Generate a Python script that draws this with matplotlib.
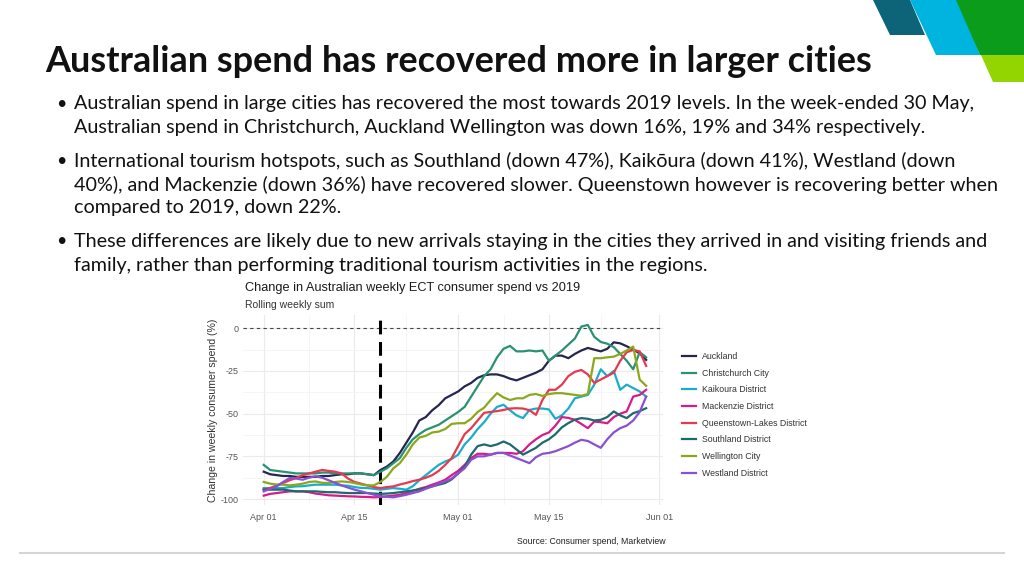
import matplotlib
matplotlib.use('Agg')
import matplotlib.pyplot as plt
import matplotlib.dates as mdates
from matplotlib.patches import Polygon
from matplotlib.lines import Line2D
import pandas as pd

plt.rcParams['axes.unicode_minus'] = False

# ---------------- data ----------------
start_date = '2020-04-01'
n_days = 60
event_date = '2020-04-19'

series_names = ['Auckland', 'Christchurch City', 'Kaikoura District', 'Mackenzie District',
                'Queenstown-Lakes District', 'Southland District', 'Wellington City', 'Westland District']

auckland = [-84, -85.5, -86, -86.5, -86.5, -87, -87, -87, -87, -86.5,
            -86.5, -86, -85.5, -85.5, -85, -85, -85.5, -86, -83, -81,
            -78, -73, -67, -61, -54, -52, -48, -45, -41, -39,
            -37, -34, -32, -29, -27.5, -27, -27, -28, -29.5, -30.5,
            -29, -27.5, -26, -24, -19, -16, -16, -17.5, -15, -13,
            -11.5, -12.5, -13.5, -12, -8.2, -8.8, -10.5, -12.5, -14.6, -18.5]
christchurch = [-80, -83, -83.5, -84, -84.5, -85, -85, -85, -85, -84.5,
                -84.5, -85, -85, -85, -85, -85, -85.5, -86, -84, -82,
                -79, -76, -70, -65, -62, -59.5, -58, -56.5, -54, -51.5,
                -49, -46, -40, -34, -28, -24, -17, -12, -10.3, -13.5,
                -13.5, -13, -13.5, -13, -19, -16, -13, -9.5, -6, 1,
                2, -5, -8, -9, -11, -15, -19, -24, -14, -17]
kaikoura = [-93.6, -93.6, -93.6, -93.6, -93, -92.6, -92.5, -92, -91.6, -91.6,
            -91.6, -91.6, -92, -92.2, -93, -93.5, -93.6, -94, -94.5, -94,
            -93.6, -94, -94.5, -92.5, -89, -86, -83, -80, -78, -76.5,
            -74, -68, -64, -59, -55, -50, -46, -44.8, -48, -51,
            -52.6, -47.8, -47, -47, -47.5, -53, -51, -47, -41, -40,
            -39, -33, -24, -28, -25, -36, -33, -35, -37, -40]
mackenzie = [-98, -97, -96.5, -96, -95.5, -95.5, -95.5, -96, -96.8, -97.3,
             -97.8, -98, -98.2, -98.4, -98.5, -98.7, -98.8, -99, -98.8, -98.4,
             -98, -97.5, -96.5, -95.2, -94, -93, -91.6, -90.3, -88.7, -86,
             -83.5, -80, -76, -73.5, -73.5, -74, -73, -73, -73, -73.5,
             -72, -68, -65, -62.5, -61, -57, -52, -52.5, -53.6, -56,
             -58.5, -54.6, -55, -55.6, -52, -50, -48.7, -40, -39, -36]
queenstown = [-94.5, -93.5, -92, -90.6, -89, -87.7, -86, -85, -84, -83,
              -83.5, -84, -85, -88, -90, -91, -92, -93, -93.6, -93,
              -92.6, -91.5, -90.6, -89.5, -88.7, -87.5, -86, -83.5, -80, -76,
              -69, -62, -58.5, -54, -49.5, -49, -48.5, -47.8, -47, -46.8,
              -47, -48, -50.7, -42, -36, -36, -33, -28, -25.5, -24.4,
              -27, -32, -30, -28, -26, -19, -14, -12.7, -13.5, -22]
southland = [-94.5, -94.5, -94.5, -94.5, -95, -95.5, -95.5, -95.5, -95.5, -95.8,
             -96, -96, -96.3, -96.5, -96.5, -96.5, -96.5, -96.8, -97, -96.8,
             -96.5, -96, -95.5, -95, -94.5, -93.5, -92.6, -91.6, -90.6, -88.5,
             -85, -81, -74, -69, -68, -69, -68, -66.3, -68, -71,
             -74, -72, -70, -67, -65, -62, -58, -55.5, -53.5, -52.6,
             -53, -54, -53.6, -52, -48.7, -51, -52.6, -49.7, -48.5, -46.8]
wellington = [-90, -91, -91.5, -91.6, -92, -91.6, -91, -90, -89.7, -90.5,
              -90.6, -90, -89.7, -90, -90.6, -91.5, -92, -92, -90, -87,
              -82, -79, -74, -68, -64, -63, -61, -60.5, -59, -56,
              -55.6, -55.6, -53, -49, -46.5, -42, -38, -40.5, -42, -41,
              -41, -39, -38.5, -39.6, -38.5, -38, -38, -38.5, -39, -39.5,
              -38.5, -17.5, -17.5, -17, -16.6, -15, -13, -10.7, -30, -33.7]
westland = [-95.5, -94, -92.6, -90, -87.7, -88, -88.7, -87.5, -86.7, -87.5,
            -89, -90.5, -92, -93.3, -94.5, -95.5, -96.5, -97.5, -98.4, -98.7,
            -99, -98.3, -97.5, -96.5, -95.5, -94, -92.6, -91, -89.7, -88,
            -85, -82, -77, -75, -75, -74, -73, -73, -74.5, -76,
            -77.5, -79, -75.5, -73.5, -73, -72, -70.5, -69, -67, -65.3,
            -66, -68, -70, -65, -61, -58.5, -57, -54, -49, -40]

series_values = [auckland, christchurch, kaikoura, mackenzie, queenstown,
                 southland, wellington, westland]
series_colors = ['#25264F', '#2A9173', '#1AADCB', '#D81B8A', '#E8384F',
                 '#1B6A70', '#8BA81C', '#8A50D0']

y_ticks = [0, -25, -50, -75, -100]
x_tick_dates = ['2020-04-01', '2020-04-15', '2020-05-01', '2020-05-15', '2020-06-01']

slide_title = 'Australian spend has recovered more in larger cities'
bullets = [
    ['Australian spend in large cities has recovered the most towards 2019 levels. In the week-ended 30 May,',
     'Australian spend in Christchurch, Auckland Wellington was down 16%, 19% and 34% respectively.'],
    ['International tourism hotspots, such as Southland (down 47%), Kaikōura (down 41%), Westland (down',
     '40%), and Mackenzie (down 36%) have recovered slower. Queenstown however is recovering better when',
     'compared to 2019, down 22%.'],
    ['These differences are likely due to new arrivals staying in the cities they arrived in and visiting friends and',
     'family, rather than performing traditional tourism activities in the regions.'],
]
chart_title = 'Change in Australian weekly ECT consumer spend vs 2019'
chart_subtitle = 'Rolling weekly sum'
y_label = 'Change in weekly consumer spend (%)'
source_text = 'Source: Consumer spend, Marketview'

# ---------------- figure ----------------
W, H = 1024, 576
fig = plt.figure(figsize=(W / 100, H / 100), dpi=100)
fig.patch.set_facecolor('white')

def fx(x):
    return x / W

def fy(y):
    return 1 - y / H

renderer = fig.canvas.get_renderer()

def fitted_size(s, target_w, base, **kw):
    t = fig.text(0, 0, s, fontsize=base, **kw)
    w = t.get_window_extent(renderer).width
    t.remove()
    return base * target_w / w

# logo shapes top-right
logo = [
    ([(873, 0), (910, 0), (925, 35), (890, 35)], '#0D6478'),
    ([(910, 0), (958, 0), (980, 55), (936, 55)], '#00B4E0'),
    ([(956, 0), (1024, 0), (1024, 55), (980, 55)], '#0A9C1A'),
    ([(981, 55), (1024, 55), (1024, 82), (993, 82)], '#93D500'),
]
for pts, col in logo:
    fig.patches.append(Polygon([(fx(a), fy(b)) for a, b in pts], closed=True,
                               transform=fig.transFigure, facecolor=col,
                               edgecolor='none', zorder=1))

# slide title
tsize = fitted_size(slide_title, 827, 22, family='Lato', fontweight='bold')
fig.text(fx(45), fy(61), slide_title, fontsize=tsize, family='Lato',
         fontweight='bold', color='#111111', va='center', ha='left')

# bullets
bsize = fitted_size(bullets[0][0], 901, 13, family='Lato')
line_y = [[104, 128], [161, 185, 208], [241, 265]]
for lines, ys in zip(bullets, line_y):
    fig.text(fx(56), fy(ys[0]), '•', fontsize=bsize * 0.9, family='Lato',
             color='#111111', va='center', ha='left')
    for s, yy in zip(lines, ys):
        fig.text(fx(74), fy(yy), s, fontsize=bsize, family='Lato',
                 color='#111111', va='center', ha='left')

# chart titles
fig.text(fx(245), fy(288), chart_title, fontsize=9.2, family='Liberation Sans',
         color='#1a1a1a', va='center', ha='left')
fig.text(fx(245), fy(305), chart_subtitle, fontsize=7.5, family='Liberation Sans',
         color='#333333', va='center', ha='left')

# source and bottom rule
fig.text(fx(666), fy(542), source_text, fontsize=6.3, family='Liberation Sans',
         color='#222222', va='center', ha='right')
fig.lines.append(Line2D([fx(20), fx(1004)], [fy(553), fy(553)],
                        transform=fig.transFigure, color='#D5D5D5', lw=1.5))

# ---------------- chart ----------------
ax = fig.add_axes([fx(243), fy(505), fx(663) - fx(243), fy(315) - fy(505)])
dates = pd.date_range(start_date, periods=n_days, freq='D')
d0 = pd.Timestamp(start_date)
ax.set_xlim(mdates.date2num(d0 - pd.Timedelta(days=3.2)),
            mdates.date2num(d0 + pd.Timedelta(days=61.6)))
ax.set_ylim(-103.5, 7.8)

for sp in ax.spines.values():
    sp.set_visible(False)

ax.set_yticks(y_ticks)
ax.set_yticks([-12.5, -37.5, -62.5, -87.5], minor=True)
xt = pd.to_datetime(x_tick_dates)
ax.set_xticks(mdates.date2num(xt))
ax.set_xticks(mdates.date2num(pd.to_datetime(['2020-04-08', '2020-04-23',
                                               '2020-05-08', '2020-05-23'])), minor=True)
ax.xaxis.set_major_formatter(mdates.DateFormatter('%b %d'))
ax.grid(True, which='major', color='#EBEBEB', lw=0.8)
ax.grid(True, which='minor', color='#F4F4F4', lw=0.6)
ax.set_axisbelow(True)
ax.tick_params(which='both', length=0)
ax.tick_params(axis='y', pad=3, labelsize=6.5, labelcolor='#555555')
ax.tick_params(axis='x', pad=6, labelsize=6.5, labelcolor='#555555')
for lab in ax.get_xticklabels() + ax.get_yticklabels():
    lab.set_family('Liberation Sans')

ax.axhline(0, color='#444444', lw=0.8, ls=(0, (3, 3)), zorder=2)
ax.axvline(mdates.date2num(pd.Timestamp(event_date)), color='black', lw=2.2,
           ls=(0, (4.5, 2.5)), zorder=2)

handles = []
for name, vals, col in zip(series_names, series_values, series_colors):
    h, = ax.plot(dates, vals, color=col, lw=1.6, label=name, zorder=3,
                 solid_joinstyle='round')
    handles.append(h)

ax.set_ylabel(y_label, fontsize=7.6, family='Liberation Sans', color='#333333', labelpad=2)

leg = ax.legend(handles=handles, loc='upper left', bbox_to_anchor=(fx(682), fy(352)),
                bbox_transform=fig.transFigure, frameon=False, borderpad=0,
                borderaxespad=0, handlelength=1.6, handletextpad=0.7,
                labelspacing=0.88, prop={'family': 'Liberation Sans', 'size': 6.3})
for t in leg.get_texts():
    t.set_color('#333333')

fig.savefig('out.png', dpi=100, facecolor='white')
